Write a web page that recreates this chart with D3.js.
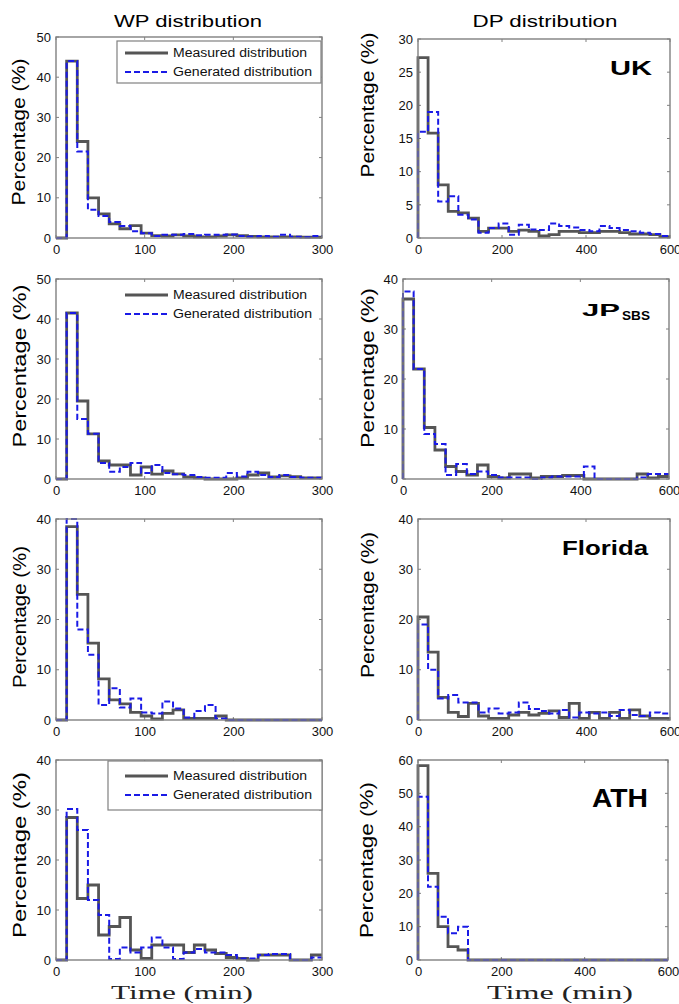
<!DOCTYPE html>
<html>
<head>
<meta charset="utf-8">
<script src="https://cdn.jsdelivr.net/npm/d3@7"></script>
<style>
  body { margin: 0; background: #fff; }
  text { font-family: Arial, "Liberation Sans", Helvetica, sans-serif; }
</style>
</head>
<body>
<svg id="fig" width="679" height="1004"></svg>
<script>
// Histogram bin widths (minutes)
const wpBinWidth = 12;   // waiting-period bins
const dpBinWidth = 24;   // dwell-period bins

// WP (waiting period) histograms, percentage per 12-min bin, 0..300 min
const wpUkMeasured   = [0, 44, 24, 10, 6, 3.5, 2.3, 3.1, 1.2, 0.6, 0.5, 0.8, 0.5, 0.3, 0.3, 0.5, 0.8, 0.6, 0.4, 0.3, 0.3, 0.3, 0.3, 0.2, 0.2];
const wpUkGenerated  = [0, 44, 21.5, 7, 5.5, 4, 3, 1.7, 1.2, 0.5, 0.8, 0.8, 1, 0.7, 0.8, 0.8, 0.9, 0.5, 0.4, 0.5, 0.3, 0.8, 0.3, 0.2, 0.5];
const wpJpMeasured   = [0, 41.5, 19.5, 11.3, 4.5, 3.5, 3.5, 1, 3, 1.2, 2, 1.3, 0.5, 0.3, 0, 0, 0, 0.3, 1, 1.5, 0.5, 0.8, 0.6, 0.3, 0.3];
const wpJpGenerated  = [0, 41.5, 15, 11.3, 4, 1.8, 3, 4, 1.5, 3.5, 1.5, 1.2, 1, 0.5, 0.3, 0.3, 1.5, 0.6, 1.8, 1, 0.5, 1, 0.5, 0.3, 0.3];
const wpFlMeasured   = [0, 38.5, 25, 15.3, 8.2, 4, 3.2, 1.5, 0.8, 0.2, 1.3, 2, 0.3, 0.3, 0.3, 0.8, 0, 0, 0, 0, 0, 0, 0, 0, 0];
const wpFlGenerated  = [0, 40, 18, 13, 3, 6.3, 2.5, 4.3, 1.5, 1.3, 3.7, 2.3, 0.5, 1.8, 3, 0.3, 0, 0, 0, 0, 0, 0, 0, 0, 0];
const wpAthMeasured  = [0, 28.5, 12.3, 15, 5, 6.7, 8.5, 2, 0.3, 3, 3, 3, 1.5, 3, 2, 1.3, 0.5, 0.3, 0, 1, 1, 1, 0, 0, 1];
const wpAthGenerated = [0, 30.2, 26, 12, 9, 0.2, 2.5, 1.5, 2.5, 4.5, 2.5, 0.2, 1.5, 2.2, 1.5, 1.5, 1, 0.3, 0.3, 1, 1.2, 1.2, 0, 0, 0.5];

// DP (dwell period) histograms, percentage per 24-min bin, 0..600 min
const dpUkMeasured   = [27.2, 15.8, 8, 4, 3.8, 3, 1, 1.5, 1.5, 1, 1.2, 1, 0.3, 0.5, 1, 1, 0.8, 0.8, 1, 1, 0.8, 0.6, 0.6, 0.5, 0.2];
const dpUkGenerated  = [16, 19, 5.5, 6.3, 3.5, 2.8, 0.8, 1.5, 2.2, 0.5, 2, 1.3, 1.2, 2.2, 1.8, 1.6, 1.2, 1, 1.8, 1.5, 1.2, 1, 0.8, 0.6, 0.3];
const dpJpMeasured   = [36, 22, 10.3, 5.8, 2.5, 1.5, 0.8, 2.8, 0.5, 0.2, 1, 1, 0.2, 0.5, 0.5, 0.7, 0.7, 0, 0, 0, 0, 0, 1, 0.2, 0.5];
const dpJpGenerated  = [37.5, 22, 9, 7, 0.8, 3, 1, 1.5, 0.8, 0.3, 0.3, 0.3, 0, 0.3, 0.5, 0.5, 0.5, 2.5, 0, 0, 0, 0, 0.3, 1, 1];
const dpFlMeasured   = [20.5, 13.5, 4.5, 1.5, 0.7, 3.3, 0.8, 0.3, 0.3, 1, 1.5, 1, 1.3, 1.8, 0.5, 3.3, 0.3, 1.5, 0.3, 1.5, 0.3, 2, 0.8, 0.3, 0.3];
const dpFlGenerated  = [19, 10, 4.3, 5, 3.5, 3.5, 1.5, 2.3, 1.3, 1.5, 3.5, 2.2, 1.8, 1.3, 2, 0.5, 1.5, 1.3, 1.5, 0.8, 2, 1, 0.8, 1.5, 1.3];
const dpAthMeasured  = [58.3, 26, 10, 4, 3, 0, 0, 0, 0, 0, 0, 0, 0, 0, 0, 0, 0, 0, 0, 0, 0, 0, 0, 0, 0];
const dpAthGenerated = [49, 22, 13, 8, 10, 0, 0, 0, 0, 0, 0, 0, 0, 0, 0, 0, 0, 0, 0, 0, 0, 0, 0, 0, 0];

// Axis ticks
const wpTicksX = [0, 100, 200, 300];
const dpTicksX = [0, 200, 400, 600];
const yTicks50 = [0, 10, 20, 30, 40, 50];
const yTicks40 = [0, 10, 20, 30, 40];
const yTicks30 = [0, 5, 10, 15, 20, 25, 30];
const yTicks60 = [0, 10, 20, 30, 40, 50, 60];

// Labels
const columnTitles = ["WP distribution", "DP distribution"];
const seriesNames = ["Measured distribution", "Generated distribution"];
const yLabel = "Percentage (%)";
const xLabel = "Time (min)";

// Style
const colMeasured = "#555555";
const colGenerated = "#1a1ae6";
const colFrame = "#808080";

// Panel layout: plot box [left, top, right, bottom], y-label placement, legend mode, site label
const panels = [
  { box: [56, 37, 322, 238],  xMax: 300, bw: wpBinWidth, xt: wpTicksX, yt: yTicks50, m: wpUkMeasured,  g: wpUkGenerated,  yl: [19, 132, 147], legend: "boxed", lbox: [117, 41, 321, 83] },
  { box: [418, 39, 670, 238], xMax: 600, bw: dpBinWidth, xt: dpTicksX, yt: yTicks30, m: dpUkMeasured,  g: dpUkGenerated,  yl: [368, 105, 145], site: { name: "UK", x: 652, y: 75, size: 20, len: 42 } },
  { box: [56, 279, 322, 479], xMax: 300, bw: wpBinWidth, xt: wpTicksX, yt: yTicks50, m: wpJpMeasured,  g: wpJpGenerated,  yl: [20, 366, 163], legend: "plain" },
  { box: [403, 279, 669, 479],xMax: 600, bw: dpBinWidth, xt: dpTicksX, yt: yTicks40, m: dpJpMeasured,  g: dpJpGenerated,  yl: [368, 368, 160], site: { name: "JP", sub: "SBS", x: 582, y: 315.5, size: 17, len: 38, subX: 622, subY: 320, subSize: 13, subLen: 28 } },
  { box: [56, 519, 322, 720], xMax: 300, bw: wpBinWidth, xt: wpTicksX, yt: yTicks40, m: wpFlMeasured,  g: wpFlGenerated,  yl: [20, 617, 142] },
  { box: [418, 519, 670, 720],xMax: 600, bw: dpBinWidth, xt: dpTicksX, yt: yTicks40, m: dpFlMeasured,  g: dpFlGenerated,  yl: [368, 605, 146], site: { name: "Florida", x: 648, y: 555, size: 21, len: 86 } },
  { box: [56, 760, 322, 960], xMax: 300, bw: wpBinWidth, xt: wpTicksX, yt: yTicks40, m: wpAthMeasured, g: wpAthGenerated, yl: [20, 855, 166], legend: "boxed", lbox: [108, 761, 322, 810] },
  { box: [418, 760, 668, 960],xMax: 600, bw: dpBinWidth, xt: dpTicksX, yt: yTicks60, m: dpAthMeasured, g: dpAthGenerated, yl: [367, 860, 156], site: { name: "ATH", x: 648, y: 807, size: 25, len: 56 } }
];

const svg = d3.select("#fig");

// Column titles and shared x-axis labels
svg.append("text").attr("x", 188).attr("y", 27).attr("text-anchor", "middle")
  .attr("font-size", 17).attr("textLength", 148).attr("lengthAdjust", "spacingAndGlyphs").text(columnTitles[0]);
svg.append("text").attr("x", 545).attr("y", 27).attr("text-anchor", "middle")
  .attr("font-size", 17).attr("textLength", 145).attr("lengthAdjust", "spacingAndGlyphs").text(columnTitles[1]);

[[182, 142], [560, 146]].forEach(([cx, len]) => {
  svg.append("text").attr("x", cx).attr("y", 999).attr("text-anchor", "middle")
    .style("font-family", "'Liberation Serif', 'Times New Roman', serif")
    .attr("font-size", 19).attr("fill", "#222")
    .attr("textLength", len).attr("lengthAdjust", "spacingAndGlyphs").text(xLabel);
});

// Stair path points: value of bin i spans [i*bw, (i+1)*bw]
function stairs(values, bw) {
  const pts = [[0, 0]];
  values.forEach((v, i) => pts.push([i * bw, v]));
  pts.push([values.length * bw, values[values.length - 1]]);
  return pts;
}

panels.forEach(p => {
  const [L, T, R, B] = p.box;
  const yMax = p.yt[p.yt.length - 1];
  const x = d3.scaleLinear().domain([0, p.xMax]).range([L, R]);
  const y = d3.scaleLinear().domain([0, yMax]).range([B, T]);
  const g = svg.append("g");

  // inward ticks on all four sides
  const tickLen = 3;
  const bottomAxis = d3.axisBottom(x).tickValues(p.xt).tickSize(0).tickPadding(6);
  const leftAxis = d3.axisLeft(y).tickValues(p.yt).tickSize(0).tickPadding(5);
  const ax = g.append("g").attr("transform", `translate(0,${B})`).call(bottomAxis);
  const ay = g.append("g").attr("transform", `translate(${L},0)`).call(leftAxis);
  [ax, ay].forEach(a => {
    a.select(".domain").remove();
    a.selectAll("text").attr("font-size", 13).attr("fill", "#111")
      .style("font-family", "Arial, 'Liberation Sans', sans-serif");
  });
  ax.selectAll("text").attr("dy", "0.78em");

  const ticks = g.append("g").attr("stroke", colFrame).attr("stroke-width", 1);
  p.xt.forEach(t => {
    ticks.append("line").attr("x1", x(t)).attr("x2", x(t)).attr("y1", B).attr("y2", B - tickLen);
    ticks.append("line").attr("x1", x(t)).attr("x2", x(t)).attr("y1", T).attr("y2", T + tickLen);
  });
  p.yt.forEach(t => {
    ticks.append("line").attr("y1", y(t)).attr("y2", y(t)).attr("x1", L).attr("x2", L + tickLen);
    ticks.append("line").attr("y1", y(t)).attr("y2", y(t)).attr("x1", R).attr("x2", R - tickLen);
  });

  // histogram outlines
  const line = d3.line().x(d => x(d[0])).y(d => y(d[1])).curve(d3.curveStepAfter);
  g.append("path").attr("d", line(stairs(p.m, p.bw)))
    .attr("fill", "none").attr("stroke", colMeasured).attr("stroke-width", 2.8);
  g.append("path").attr("d", line(stairs(p.g, p.bw)))
    .attr("fill", "none").attr("stroke", colGenerated).attr("stroke-width", 2)
    .attr("stroke-dasharray", "6,3");

  // frame
  g.append("rect").attr("x", L).attr("y", T).attr("width", R - L).attr("height", B - T)
    .attr("fill", "none").attr("stroke", colFrame).attr("stroke-width", 1.4);

  // y label
  const [lx, ly, llen] = p.yl;
  g.append("text").attr("transform", `translate(${lx},${ly}) rotate(-90)`)
    .attr("text-anchor", "middle").attr("dy", "0.35em").attr("font-size", 18)
    .attr("textLength", llen).attr("lengthAdjust", "spacingAndGlyphs").text(yLabel);

  // legend
  if (p.legend) {
    if (p.legend === "boxed") {
      const [bx0, by0, bx1, by1] = p.lbox;
      g.append("rect").attr("x", bx0).attr("y", by0).attr("width", bx1 - bx0).attr("height", by1 - by0)
        .attr("fill", "#fff").attr("stroke", colFrame).attr("stroke-width", 1.2);
    }
    const rows = [
      { name: seriesNames[0], col: colMeasured, w: 2.8, dash: null, len: 134 },
      { name: seriesNames[1], col: colGenerated, w: 2, dash: "6,3", len: 139 }
    ];
    rows.forEach((r, i) => {
      const ry = T + 16 + i * 19;
      const ln = g.append("line").attr("x1", L + 69).attr("x2", L + 112).attr("y1", ry).attr("y2", ry)
        .attr("stroke", r.col).attr("stroke-width", r.w);
      if (r.dash) ln.attr("stroke-dasharray", r.dash);
      g.append("text").attr("x", L + 117).attr("y", ry).attr("dy", "0.35em")
        .attr("font-size", 12).attr("fill", "#111")
        .attr("textLength", r.len).attr("lengthAdjust", "spacingAndGlyphs").text(r.name);
    });
  }

  // site label
  if (p.site) {
    const s = p.site;
    if (s.sub) {
      g.append("text").attr("x", s.x).attr("y", s.y).attr("font-size", s.size).attr("font-weight", "bold")
        .attr("textLength", s.len).attr("lengthAdjust", "spacingAndGlyphs").text(s.name);
      g.append("text").attr("x", s.subX).attr("y", s.subY).attr("font-size", s.subSize).attr("font-weight", "bold")
        .attr("textLength", s.subLen).attr("lengthAdjust", "spacingAndGlyphs").text(s.sub);
    } else {
      g.append("text").attr("x", s.x).attr("y", s.y).attr("text-anchor", "end").attr("font-size", s.size)
        .attr("font-weight", "bold")
        .attr("textLength", s.len).attr("lengthAdjust", "spacingAndGlyphs").text(s.name);
    }
  }
});
</script>
</body>
</html>
